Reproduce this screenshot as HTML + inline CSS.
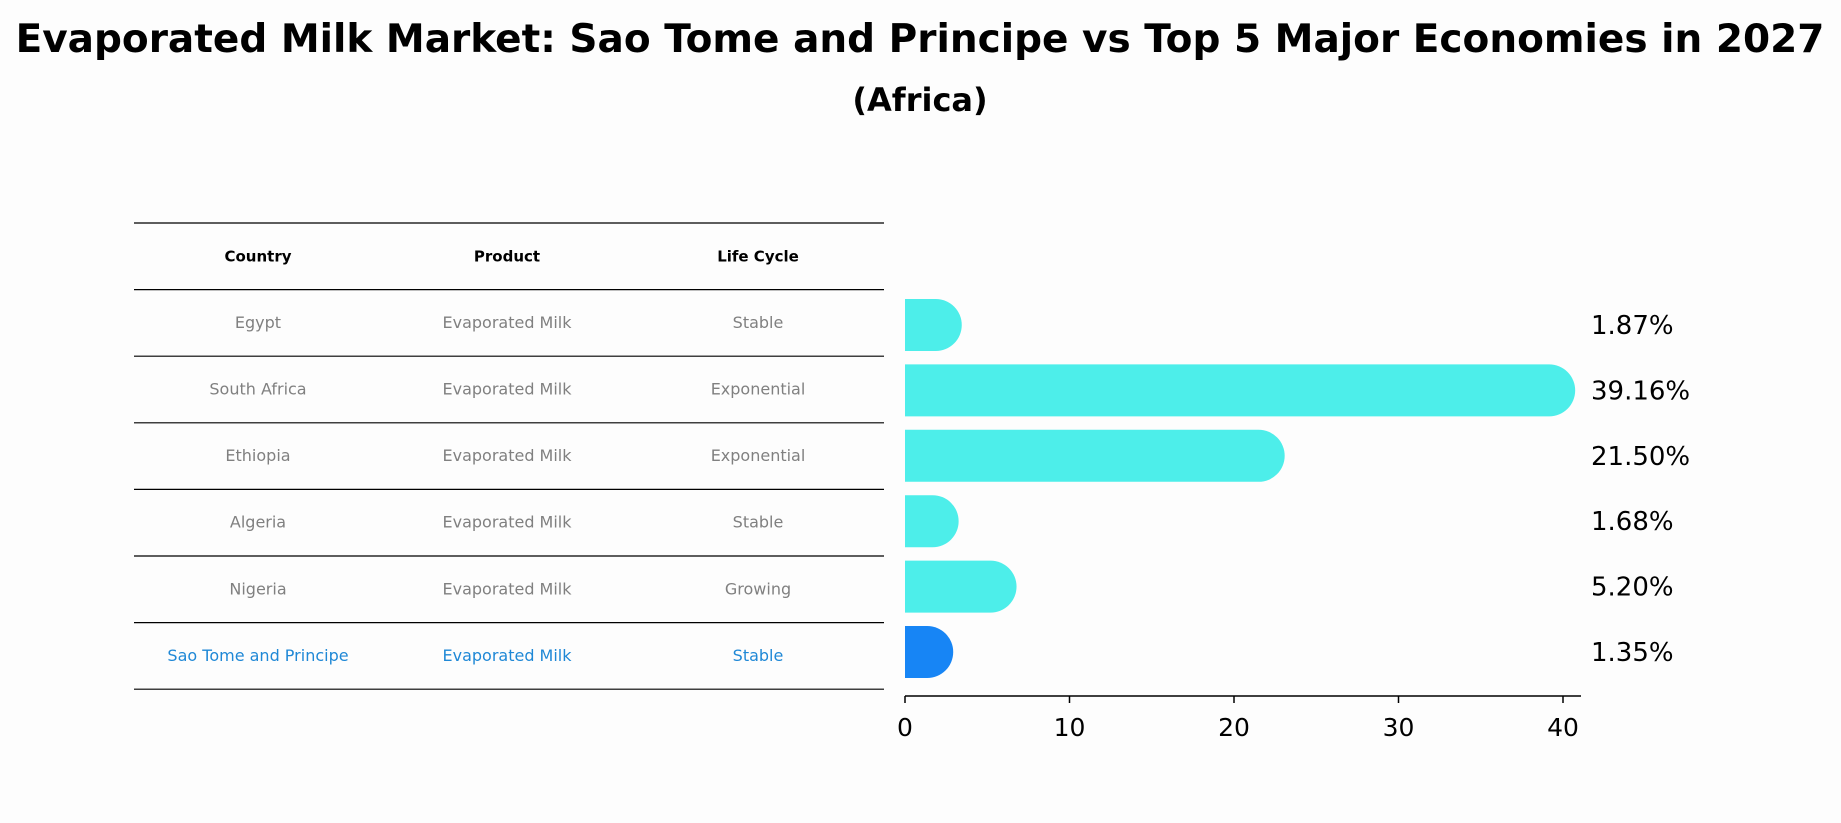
<!DOCTYPE html>
<html><head><meta charset="utf-8"><style>
body{margin:0;background:#fdfdfd;}
svg{display:block;font-family:"DejaVu Sans","Liberation Sans",sans-serif;}
</style></head><body>
<svg id="chart" width="1841" height="823" viewBox="0 0 1841 823">
<rect width="1841" height="823" fill="#fdfdfd"/>
<text x="920" y="52" text-anchor="middle" font-size="39" font-weight="bold">Evaporated Milk Market: Sao Tome and Principe vs Top 5 Major Economies in 2027</text>
<text x="920" y="111" text-anchor="middle" font-size="32" font-weight="bold">(Africa)</text>
<g id="table"></g>
<g id="bars"></g>
</svg>
<script>
const countries=["Egypt","South Africa","Ethiopia","Algeria","Nigeria","Sao Tome and Principe"];
const products=["Evaporated Milk","Evaporated Milk","Evaporated Milk","Evaporated Milk","Evaporated Milk","Evaporated Milk"];
const lifeCycles=["Stable","Exponential","Exponential","Stable","Growing","Stable"];
const values=[1.87,39.16,21.50,1.68,5.20,1.35];
const valueLabels=["1.87%","39.16%","21.50%","1.68%","5.20%","1.35%"];
const ticks=[0,10,20,30,40];
const highlightIndex=5;

const NS="http://www.w3.org/2000/svg";
function mk(tag,attrs,parent){const e=document.createElementNS(NS,tag);for(const k in attrs)e.setAttribute(k,attrs[k]);parent.appendChild(e);return e;}
const table=document.getElementById('table');
const bars=document.getElementById('bars');
const rowH=66.6, top0=223, tx0=134, tx1=884;
const colX=[258,507,758];
for(let i=0;i<=countries.length+1;i++){
  const l=mk('line',{x1:tx0,x2:tx1,y1:top0+i*rowH,y2:top0+i*rowH,stroke:'#000','stroke-width':1.2},table);
  
  
}
const headers=["Country","Product","Life Cycle"];
headers.forEach((h,j)=>{
  const t=mk('text',{x:colX[j],y:top0+rowH/2+5,'text-anchor':'middle','font-size':15,'font-weight':'bold'},table);
  t.textContent=h;
  
  
});
countries.forEach((c,i)=>{
  const y=top0+(i+1.5)*rowH+5;
  const col=i===highlightIndex?'#1f88d6':'#808080';
  [c,products[i],lifeCycles[i]].forEach((v,j)=>{
    const t=mk('text',{x:colX[j],y:y,'text-anchor':'middle','font-size':16,fill:col},table);
    t.textContent=v;
    
    
  });
});
const x0=905, unit=(1563-905)/40;
const xs=v=>x0+v*unit;
const yc=i=>325+i*65.4;
const bh=52, r=26;
values.forEach((v,i)=>{
  const col=i===highlightIndex?'#1785f5':'#4deeea';
  const xe=xs(v), y=yc(i);
  const p=mk('path',{d:`M${x0},${y-bh/2} L${xe},${y-bh/2} A${r},${r} 0 0 1 ${xe},${y+bh/2} L${x0},${y+bh/2} Z`,fill:col},bars);
  
  
  const t=mk('text',{x:1591,y:y+9,'font-size':26},bars);
  t.textContent=valueLabels[i];
  
  
});
const ay=696;
const ax=mk('line',{x1:x0,x2:1581,y1:ay,y2:ay,stroke:'#000','stroke-width':1.5},bars);


ticks.forEach(t=>{
  const l=mk('line',{x1:xs(t),x2:xs(t),y1:ay,y2:ay+7,stroke:'#000','stroke-width':1.5},bars);
  
  
  const tx=mk('text',{x:xs(t),y:ay+40,'text-anchor':'middle','font-size':25},bars);
  tx.textContent=t;
  
  
});
</script>
</body></html>
